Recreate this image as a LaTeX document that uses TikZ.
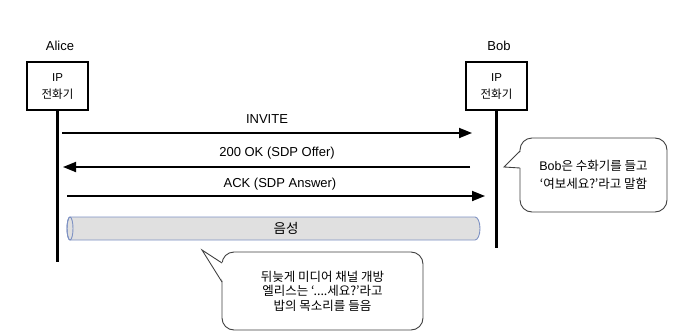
\documentclass[tikz,border=0pt]{standalone}
\usepackage{fontspec}
\setmainfont{Liberation Sans}
\newfontfamily\kr{Noto Sans CJK KR}
\usetikzlibrary{arrows.meta}
\begin{document}
\begin{tikzpicture}[x=1pt,y=-1pt,
  lbl/.style={font=\fontsize{13}{15}\selectfont, inner sep=0pt},
  dev/.style={draw, line width=1.5pt, minimum width=61pt, minimum height=48pt, inner sep=0pt,
              align=center, font=\fontsize{11.5}{17}\selectfont},
  life/.style={line width=2.5pt},
  msg/.style={line width=1.8pt, -{Triangle[length=13pt,width=10pt]}},
  notebox/.style={draw=black!75, line width=0.9pt, rounded corners=12pt, fill=white, inner sep=0pt, align=center},
  notetip/.style={draw=black!75, line width=0.9pt, line join=miter},
  voicecol/.style={draw={rgb,255:red,125;green,145;blue,195}, line width=0.9pt, fill=black!12}
]
\useasboundingbox (0,0) rectangle (691,332);

% participants
\node[lbl] (alicelbl) at (60,46) {Alice};
\node[lbl] (boblbl) at (499,46) {Bob};
\node[dev] (alice) at (57.5,86) {IP\\{\kr 전화기}};
\node[dev] (bob) at (496.5,86) {IP\\{\kr 전화기}};
\coordinate (aend) at (57.5,262);
\coordinate (bend) at (496.5,248);
\draw[life] (alice.south) -- (aend);
\draw[life] (bob.south) -- (bend);

% messages
\coordinate (m1s) at (62,133);   \coordinate (m1e) at (472,133);
\coordinate (m2s) at (470,167);  \coordinate (m2e) at (63,167);
\coordinate (m3s) at (67,196);   \coordinate (m3e) at (485,196);
\draw[msg] (m1s) -- (m1e);
\draw[msg] (m2s) -- (m2e);
\draw[msg] (m3s) -- (m3e);
\node[lbl] (l1) at (267,119) {INVITE};
\node[lbl] (l2) at (277,153) {200 OK (SDP Offer)};
\node[lbl] (l3) at (280,184) {ACK (SDP Answer)};

% voice channel (horizontal cylinder)
\draw[voicecol] (70,217) -- (475,217) arc[start angle=-90, end angle=90, x radius=5, y radius=11.5]
   -- (70,240) arc[start angle=90, end angle=270, x radius=3, y radius=11.5] -- cycle;
\draw[voicecol, fill=none] (70,228.5) ellipse [x radius=3, y radius=11.5];
\node[lbl, font=\kr\fontsize{13.5}{15}\selectfont] (voice) at (286,228) {음성};

% Bob note
\node[notebox, minimum width=147pt, minimum height=74pt, font=\kr\fontsize{12.5}{18}\selectfont] (bobnote) at (593.5,175)
  {{\rmfamily Bob}은 수화기를 들고\\‘여보세요?’라고 말함};
\coordinate (bt) at (504,167);
\fill[white] (521.5,151) -- (bt) -- (521.5,168) -- cycle;
\draw[notetip] (520,151) -- (bt) -- (520,168);

% Alice note
\node[notebox, minimum width=201pt, minimum height=78pt, font=\kr\fontsize{12.5}{14.5}\selectfont] (alicenote) at (322.5,291)
  {뒤늦게 미디어 채널 개방\\엘리스는 ‘....세요?’라고\\밥의 목소리를 들음};
\coordinate (at) at (202,250);
\fill[white] (223.5,263) -- (at) -- (223.5,282) -- cycle;
\draw[notetip] (222,263) -- (at) -- (222,282);
\end{tikzpicture}
\end{document}
